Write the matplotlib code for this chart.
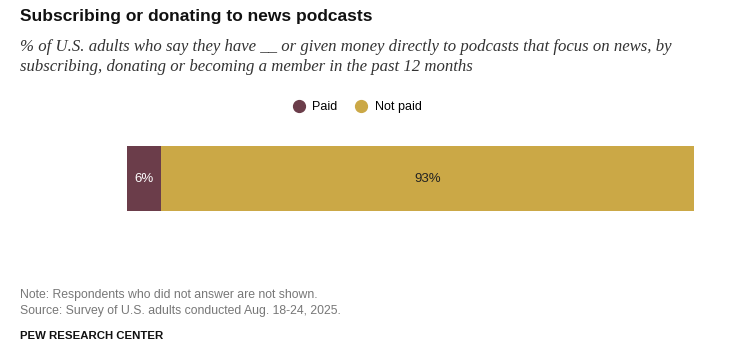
import matplotlib
matplotlib.use("Agg")
import matplotlib.pyplot as plt
from matplotlib.lines import Line2D

# Data
categories = ["Paid", "Not paid"]
values = [6, 93]
colors = ["#6b3d4a", "#cba846"]
label_colors = ["white", "#222222"]

fig = plt.figure(figsize=(7.35, 3.45), dpi=100)

# Bar area: x from 127px to 700px (0-100%), y from 146px to 211px
W, H = 735, 345
ax = fig.add_axes([127 / W, 1 - 211 / H, (700 - 127) / W, 65 / H])
left = 0
for cat, val, col, lc in zip(categories, values, colors, label_colors):
    ax.barh(0, val, left=left, color=col, height=1.0, edgecolor="none")
    ax.text(left + val / 2, 0, f"{val}%", ha="center", va="center",
            color=lc, fontsize=9.5, family="Liberation Sans")
    left += val
ax.set_xlim(0, 100)
ax.set_ylim(-0.5, 0.5)
ax.axis("off")

# Title and subtitle
fig.text(20 / W, 1 - 17 / H, "Subscribing or donating to news podcasts",
         ha="left", va="center", fontsize=12.5, fontweight="bold",
         family="Liberation Sans", color="#111111")
fig.text(20 / W, 1 - 57 / H,
         "% of U.S. adults who say they have __ or given money directly to podcasts that focus on news, by\n"
         "subscribing, donating or becoming a member in the past 12 months",
         ha="left", va="center", fontsize=12.1, style="italic",
         family="Liberation Serif", color="#333333", linespacing=1.3)

# Legend
handles = [Line2D([0], [0], marker="o", linestyle="none", markersize=8.5,
                  markerfacecolor=c, markeredgecolor=c) for c in colors]
fig.legend(handles, categories, loc="center", bbox_to_anchor=(354 / W, 1 - 107 / H),
           ncol=2, frameon=False, handletextpad=0.1, columnspacing=0.9,
           prop={"family": "Liberation Sans", "size": 9})

# Footer
fig.text(20 / W, 1 - 295 / H, "Note: Respondents who did not answer are not shown.",
         ha="left", va="center", fontsize=8.8, family="Liberation Sans", color="#777777")
fig.text(20 / W, 1 - 311 / H, "Source: Survey of U.S. adults conducted Aug. 18-24, 2025.",
         ha="left", va="center", fontsize=8.8, family="Liberation Sans", color="#777777")
fig.text(20 / W, 1 - 336 / H, "PEW RESEARCH CENTER",
         ha="left", va="center", fontsize=8.2, fontweight="bold",
         family="Liberation Sans", color="#111111")

fig.savefig("out.png", dpi=100, facecolor="white")
